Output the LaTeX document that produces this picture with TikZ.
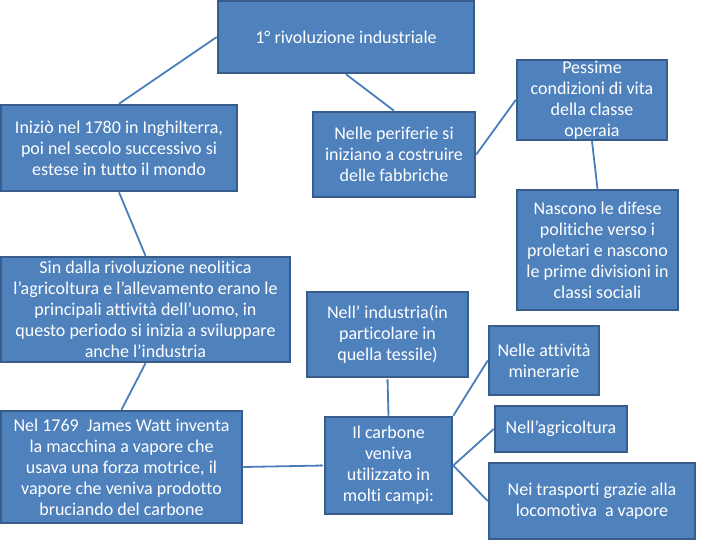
\documentclass[tikz,border=0pt]{standalone}
\usepackage{fontspec}
\setmainfont{Carlito}[RawFeature={-liga;-clig}]
\usepackage{xcolor}
\definecolor{boxblue}{HTML}{4F81BD}
\definecolor{edgeblue}{HTML}{385D8A}
\definecolor{lineblue}{HTML}{4A7EBB}
\usepackage{tikz}
\usetikzlibrary{arrows.meta, positioning}

\begin{document}
\begin{tikzpicture}[x=1pt, y=-1pt,
  box/.style={draw=edgeblue, line width=2.5pt, fill=boxblue, text=white,
    align=center, inner sep=0pt, font=\fontsize{18}{21}\selectfont},
  link/.style={draw=lineblue, line width=1.8pt},
  tip/.style={-{Latex[length=3pt,width=3pt]}}]
  \useasboundingbox (0,0) rectangle (720,540);

  % Title
  \node[box, minimum width=256pt, minimum height=72pt] (titolo) at (346,37) {1° rivoluzione industriale};

  % Left column
  \node[box, minimum width=236pt, minimum height=86pt] (inizio) at (119,148)
    {Iniziò nel 1780 in Inghilterra,\\ poi nel secolo successivo si\\ estese in tutto il mondo};
  \node[box, minimum width=289pt, minimum height=105pt] (neolitica) at (145.5,309.5)
    {Sin dalla rivoluzione neolitica\\ l’agricoltura e l’allevamento erano le\\ principali attività dell’uomo, in\\ questo periodo si inizia a sviluppare\\ anche l’industria};
  \node[box, minimum width=241pt, minimum height=112pt] (watt) at (121.5,467)
    {Nel 1769\ \ James Watt inventa\\ la macchina a vapore che\\ usava una forza motrice, il\\ vapore che veniva prodotto\\ bruciando del carbone};

  % Middle column
  \node[box, minimum width=162pt, minimum height=85pt] (periferie) at (394,154.5)
    {Nelle periferie si\\ iniziano a costruire\\ delle fabbriche};
  \node[box, minimum width=161pt, minimum height=85pt] (industria) at (387.5,334.5)
    {Nell’ industria(in\\ particolare in\\ quella tessile)};
  \node[box, minimum width=127pt, minimum height=97pt] (carbone) at (388.5,465.5)
    {Il carbone\\ veniva\\ utilizzato in\\ molti campi:};

  % Right column
  \node[box, minimum width=150pt, minimum height=80pt] (pessime) at (592,100)
    {Pessime\\ condizioni di vita\\ della classe\\ operaia};
  \node[box, minimum width=161pt, minimum height=120pt] (difese) at (597.5,250)
    {Nascono le difese\\ politiche verso i\\ proletari e nascono\\ le prime divisioni in\\ classi sociali};
  \node[box, minimum width=110pt, minimum height=69pt] (minerarie) at (544,360.5)
    {Nelle attività\\ minerarie};
  \node[box, minimum width=132pt, minimum height=46pt] (agricoltura) at (561,429)
    {Nell’agricoltura};
  \node[box, minimum width=206pt, minimum height=76pt] (trasporti) at (592,501)
    {Nei trasporti grazie alla\\ locomotiva\ \ a vapore};

  % Connectors
  \draw[link] (titolo.west) -- (inizio.north);
  \draw[link] (titolo.south) -- (periferie.north);
  \draw[link] (periferie.east) -- (pessime.west);
  \draw[link] (pessime.south) -- (difese.north);
  \draw[link] (inizio.south) -- (neolitica.north);
  \draw[link] (neolitica.south) -- (watt.north);
  \draw[link, tip] (watt.east) -- (carbone.west);
  \draw[link, tip] (carbone.north) -- (industria.south);
  \draw[link] (carbone.north east) -- (minerarie.west);
  \draw[link] (carbone.east) -- (agricoltura.west);
  \draw[link] (carbone.east) -- (trasporti.west);
\end{tikzpicture}
\end{document}
